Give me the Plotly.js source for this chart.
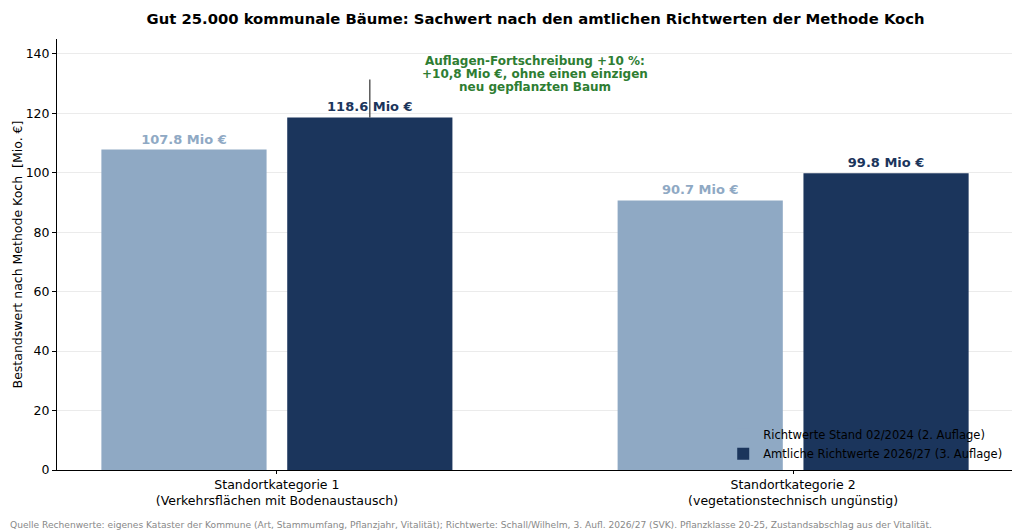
<!DOCTYPE html>
<html>
<head>
<meta charset="utf-8">
<script src="https://cdn.plot.ly/plotly-3.0.1.min.js"></script>
<style>
  html, body { margin: 0; padding: 0; background: #fff; }
  #chart { width: 1024px; height: 532px; }
</style>
</head>
<body>
<div id="chart"></div>
<script>
var categories = [
  'Standortkategorie 1<br>(Verkehrsflächen mit Bodenaustausch)',
  'Standortkategorie 2<br>(vegetationstechnisch ungünstig)'
];
var seriesNames = ['Richtwerte Stand 02/2024 (2. Auflage)', 'Amtliche Richtwerte 2026/27 (3. Auflage)'];
var valuesOld = [107.8, 90.7];
var valuesNew = [118.6, 99.8];
var colors = ['#8fa9c4', '#1b355c'];
var noteLines = [
  'Auflagen-Fortschreibung +10 %:',
  '+10,8 Mio €, ohne einen einzigen',
  'neu gepflanzten Baum'
];

var font = 'DejaVu Sans, sans-serif';
var xIdx = categories.map(function (c, i) { return i; });
var offset = 0.18;

var data = [valuesOld, valuesNew].map(function (vals, k) {
  return {
    type: 'bar',
    name: seriesNames[k],
    x: xIdx,
    y: vals,
    offset: (k === 0 ? -offset : offset) - 0.16,
    width: 0.32,
    marker: { color: colors[k] },
    text: vals.map(function (v) { return v.toFixed(1) + ' Mio €'; }),
    textposition: 'outside',
    cliponaxis: false,
    textfont: { family: font, size: 13, color: colors[k], weight: 'bold' },
    outsidetextfont: { family: font, size: 13, color: colors[k], weight: 'bold' },
    hoverinfo: 'none'
  };
});

// green note, one annotation per line to keep the tight line spacing
var noteAnnotations = noteLines.map(function (line, i) {
  return {
    xref: 'x', yref: 'y', x: 0.5, y: 137.7 - i * 4.4,
    xanchor: 'center', yanchor: 'middle',
    text: '<b>' + line + '</b>',
    showarrow: false,
    font: { family: font, size: 12, color: '#2e7d32' }
  };
});

var layout = {
  width: 1024,
  height: 532,
  margin: { l: 57, r: 12, t: 39, b: 62 },
  paper_bgcolor: '#fff',
  plot_bgcolor: '#fff',
  font: { family: font, size: 12, color: '#000' },
  barmode: 'group',
  title: {
    text: '<b>Gut 25.000 kommunale Bäume: Sachwert nach den amtlichen Richtwerten der Methode Koch</b>',
    font: { family: font, size: 14.8, color: '#000' },
    x: 0.523, xanchor: 'center', y: 0.964, yanchor: 'middle'
  },
  xaxis: {
    tickmode: 'array',
    tickvals: xIdx,
    ticktext: categories,
    range: [-0.426, 1.424],
    showline: true, linecolor: '#000', linewidth: 1,
    ticks: 'outside', ticklen: 3, tickcolor: '#000',
    showgrid: false, zeroline: false,
    tickfont: { family: font, size: 12.5, color: '#000' }
  },
  yaxis: {
    range: [0, 145],
    tickvals: [0, 20, 40, 60, 80, 100, 120, 140],
    showline: true, linecolor: '#000', linewidth: 1,
    ticks: 'outside', ticklen: 4, tickcolor: '#000',
    showgrid: true, gridcolor: '#ebebeb', gridwidth: 1,
    zeroline: false,
    tickfont: { family: font, size: 12.5, color: '#000' },
    title: { text: 'Bestandswert nach Methode Koch&nbsp; [Mio. €]', font: { family: font, size: 12.5, color: '#000' }, standoff: 0 }
  },
  legend: {
    x: 0.995, xanchor: 'right', y: 0.004, yanchor: 'bottom',
    bgcolor: 'rgba(0,0,0,0)',
    font: { family: font, size: 11.5, color: '#000' },
    tracegroupgap: 0
  },
  shapes: [{
    type: 'line', xref: 'x', yref: 'y',
    x0: xIdx[0] + offset, x1: xIdx[0] + offset,
    y0: valuesNew[0], y1: valuesNew[0] + 12.8,
    line: { color: '#333', width: 1.2 }
  }],
  annotations: noteAnnotations.concat([
    {
      xref: 'paper', yref: 'paper', x: -0.0511, y: -0.128,
      xanchor: 'left', yanchor: 'middle',
      text: 'Quelle Rechenwerte: eigenes Kataster der Kommune (Art, Stammumfang, Pflanzjahr, Vitalität); Richtwerte: Schall/Wilhelm, 3. Aufl. 2026/27 (SVK). Pflanzklasse 20-25, Zustandsabschlag aus der Vitalität.',
      showarrow: false,
      font: { family: font, size: 9.1, color: '#888' }
    }
  ])
};

Plotly.newPlot('chart', data, layout, { displayModeBar: false, staticPlot: true });
</script>
</body>
</html>
